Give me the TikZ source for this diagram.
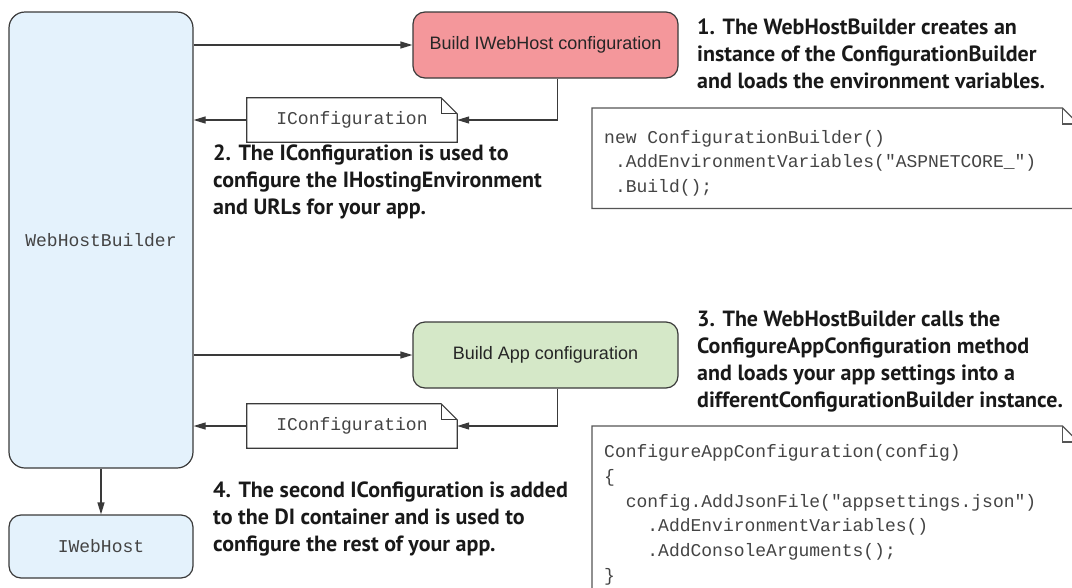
\documentclass[tikz,border=0pt]{standalone}
\usepackage{fontspec}
\setmainfont{Liberation Sans}
\newfontfamily\codefont{Liberation Mono}
\newfontfamily\notefont{PT Sans}
\usetikzlibrary{positioning,arrows.meta}
\definecolor{hostblue}{HTML}{E4F2FC}
\definecolor{buildred}{HTML}{F4979B}
\definecolor{buildgreen}{HTML}{D5E8C8}
\definecolor{edgegray}{HTML}{3A3A3A}
\definecolor{codegray}{HTML}{555555}
\definecolor{inkgray}{HTML}{444444}
\tikzset{
  flowarrow/.style={-{Triangle[length=12pt,width=7pt]}, line width=1.2pt, draw=edgegray},
  hostnode/.style={draw=edgegray, line width=1.2pt, rounded corners=16pt, fill=hostblue, minimum width=184pt, font=\codefont\fontsize{18}{22}\selectfont, text=inkgray},
  buildnode/.style={draw=edgegray, line width=1.2pt, rounded corners=12pt, minimum width=265pt, minimum height=66pt, font=\fontsize{18}{22}\selectfont, text=black!85},
  confnode/.style={fill=white, minimum width=210pt, minimum height=44pt, inner sep=0pt, font=\codefont\fontsize{18}{22}\selectfont, text=inkgray},
  codebox/.style={fill=white, anchor=north west, inner sep=0pt, minimum width=486pt},
  codetext/.style={anchor=north west, align=left, inner sep=0pt, font=\codefont\fontsize{18}{24.7}\selectfont, text=inkgray},
  remark/.style={anchor=north west, align=left, inner sep=0pt, font=\notefont\bfseries\fontsize{22}{27}\selectfont, text=black!90}
}
% outline with a folded corner
\newcommand\foldedge[3]{%
  \draw[line width=1.2pt, draw=#3] (#1.north west) -- ([xshift=-#2]#1.north east) -- ([yshift=-#2]#1.north east) -- (#1.south east) -- (#1.south west) -- cycle;
  \draw[line width=1.2pt, draw=#3] ([xshift=-#2]#1.north east) |- ([yshift=-#2]#1.north east);}

\begin{document}
\begin{tikzpicture}[x=1pt, y=-1pt]
  \useasboundingbox (0,0) rectangle (1072,587);
  \clip (0,0) rectangle (1072,587);

  \node[hostnode, minimum height=456pt] (builder) at (101,240) {WebHostBuilder};
  \node[hostnode, rounded corners=12pt, minimum height=63pt] (host) at (101,546.5) {IWebHost};

  \node[buildnode, fill=buildred] (hostcfg) at (545.5,45) {Build IWebHost configuration};
  \node[buildnode, fill=buildgreen] (appcfg) at (545.5,355) {Build App configuration};

  \node[confnode] (confA) at (352,120) {IConfiguration};
  \foldedge{confA}{16pt}{edgegray}
  \node[confnode] (confB) at (352,426) {IConfiguration};
  \foldedge{confB}{16pt}{edgegray}

  \draw[flowarrow] (hostcfg.west -| builder.east) -- (hostcfg.west);
  \draw[flowarrow] ([xshift=12pt]hostcfg.south) |- (confA.east);
  \draw[flowarrow] (confA.west) -- (confA.west -| builder.east);
  \draw[flowarrow] (appcfg.west -| builder.east) -- (appcfg.west);
  \draw[flowarrow] ([xshift=12pt]appcfg.south) |- (confB.east);
  \draw[flowarrow] (confB.west) -- (confB.west -| builder.east);
  \draw[flowarrow] (builder.south) -- (host.north);

  % code listings
  \node[codebox, minimum height=100pt] (codeA) at (592,108) {};
  \foldedge{codeA}{16pt}{codegray}
  \node[codetext] (listA) at (604,130) {new ConfigurationBuilder()\\
    \phantom{x}.AddEnvironmentVariables(\textquotedbl ASPNETCORE\_\textquotedbl)\\
    \phantom{x}.Build();};
  \node[codebox, minimum height=190pt] (codeB) at (592,426) {};
  \foldedge{codeB}{16pt}{codegray}
  \node[codetext] (listB) at (604,444.5) {ConfigureAppConfiguration(config)\\
    \{\\
    \phantom{xx}config.AddJsonFile(\textquotedbl appsettings.json\textquotedbl)\\
    \phantom{xxxx}.AddEnvironmentVariables()\\
    \phantom{xxxx}.AddConsoleArguments();\\
    \}};

  % remarks
  \node[remark] (stepA) at (697,19) {1. The WebHostBuilder creates an\\
    instance of the ConfigurationBuilder\\
    and loads the environment variables.};
  \node[remark] (stepB) at (213,145) {2. The IConfiguration is used to\\
    configure the IHostingEnvironment\\
    and URLs for your app.};
  \node[remark] (stepC) at (697,311) {3. The WebHostBuilder calls the\\
    ConfigureAppConfiguration method\\
    and loads your app settings into a\\
    differentConfigurationBuilder instance.};
  \node[remark] (stepD) at (213,482) {4. The second IConfiguration is added\\
    to the DI container and is used to\\
    configure the rest of your app.};
\end{tikzpicture}
\end{document}
